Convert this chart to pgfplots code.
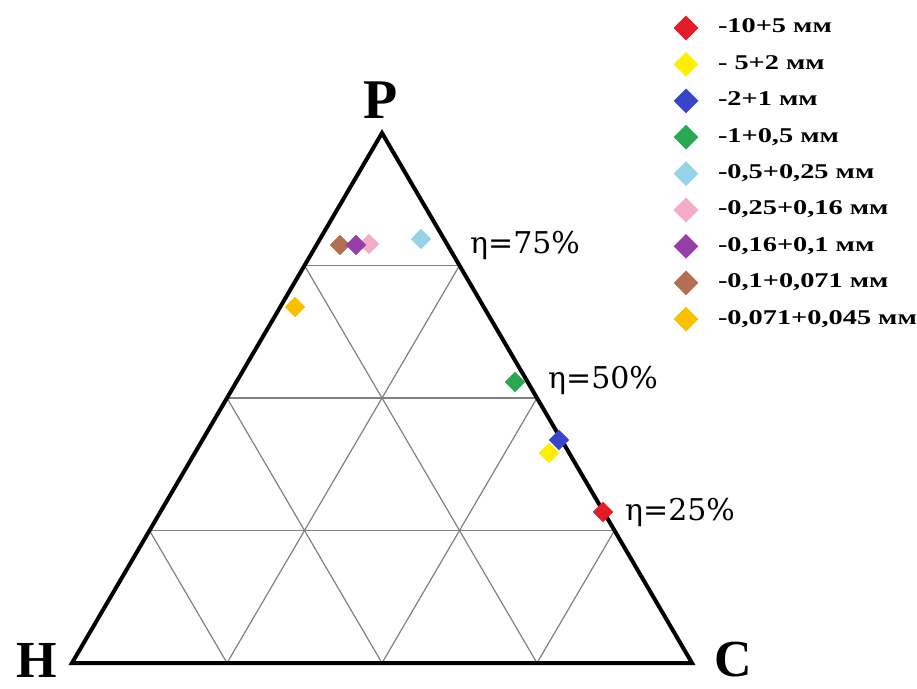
\documentclass[border=0pt]{standalone}
\usepackage{pgfplots}
\pgfplotsset{compat=1.18}
\usepackage{fontspec}
\setmainfont{Liberation Serif}
\newfontfamily\legfont[FakeStretch=1.35]{Liberation Serif}
\newfontfamily\etafont{DejaVu Serif}
\definecolor{cred}{RGB}{228,28,40}
\definecolor{cyellow}{RGB}{255,238,0}
\definecolor{cblue}{RGB}{58,68,200}
\definecolor{cgreen}{RGB}{40,168,80}
\definecolor{clblue}{RGB}{150,210,232}
\definecolor{cpink}{RGB}{245,172,200}
\definecolor{cpurple}{RGB}{150,62,170}
\definecolor{cbrown}{RGB}{180,110,80}
\definecolor{cgold}{RGB}{250,192,0}
\definecolor{gridgray}{RGB}{128,128,128}
\begin{document}
\begin{tikzpicture}
\begin{axis}[
  scale only axis, width=917pt, height=688pt,
  xmin=0, xmax=917, ymin=0, ymax=688,
  axis lines=none, clip=false,
  legend style={at={(axis cs:674,669)}, anchor=north west, draw=none, fill=none,
    inner sep=0pt, outer sep=0pt,
    font=\fontsize{21}{23}\legfont\bfseries, row sep=18.4pt,
    nodes={inner sep=0pt, text height=14pt, text depth=4pt},
    /tikz/every odd column/.append style={column sep=18pt}},
  legend cell align=left,
  legend image code/.code={\draw[overlay, mark size=8.5pt] plot coordinates {(12pt,0pt)}; \path[draw=none, fill=none] (0pt,-5pt) rectangle (26pt,5pt);},
  every axis plot/.append style={only marks, mark=square*, mark size=7pt, mark options={rotate=45}},
]
% grid
\addplot[sharp plot, mark=none, draw=gridgray, line width=1.2pt, forget plot] coordinates {(149.5,157.5) (614.5,157.5)};
\addplot[sharp plot, mark=none, draw=gridgray, line width=1.2pt, forget plot] coordinates {(227,290) (537,290)};
\addplot[sharp plot, mark=none, draw=gridgray, line width=1.2pt, forget plot] coordinates {(304.5,422.5) (459.5,422.5)};
\addplot[sharp plot, mark=none, draw=gridgray, line width=1.2pt, forget plot] coordinates {(227,25) (459.5,422.5)};
\addplot[sharp plot, mark=none, draw=gridgray, line width=1.2pt, forget plot] coordinates {(382,25) (537,290)};
\addplot[sharp plot, mark=none, draw=gridgray, line width=1.2pt, forget plot] coordinates {(537,25) (614.5,157.5)};
\addplot[sharp plot, mark=none, draw=gridgray, line width=1.2pt, forget plot] coordinates {(537,25) (304.5,422.5)};
\addplot[sharp plot, mark=none, draw=gridgray, line width=1.2pt, forget plot] coordinates {(382,25) (227,290)};
\addplot[sharp plot, mark=none, draw=gridgray, line width=1.2pt, forget plot] coordinates {(227,25) (149.5,157.5)};
% outer triangle
\addplot[sharp plot, mark=none, draw=black, line width=4pt, line join=miter, forget plot] coordinates {(72,25) (692,25) (382,555) (72,25) (692,25)};
% data
\addplot[color=cred, forget plot] coordinates {(603,176)};
\addplot[color=cyellow, forget plot] coordinates {(549,235)};
\addplot[color=cblue, forget plot] coordinates {(559,248)};
\addplot[color=cgreen, forget plot] coordinates {(515,306)};
\addplot[color=clblue, forget plot] coordinates {(421,449)};
\addplot[color=cpink, forget plot] coordinates {(369,444)};
\addplot[color=cbrown, forget plot] coordinates {(340,443)};
\addplot[color=cpurple, forget plot] coordinates {(356,443)};
\addplot[color=cgold, forget plot] coordinates {(295,381)};
% legend
\addlegendimage{only marks, mark=square*, mark options={rotate=45}, color=cred}
\addlegendentry{-10+5 мм}
\addlegendimage{only marks, mark=square*, mark options={rotate=45}, color=cyellow}
\addlegendentry{- 5+2 мм}
\addlegendimage{only marks, mark=square*, mark options={rotate=45}, color=cblue}
\addlegendentry{-2+1 мм}
\addlegendimage{only marks, mark=square*, mark options={rotate=45}, color=cgreen}
\addlegendentry{-1+0,5 мм}
\addlegendimage{only marks, mark=square*, mark options={rotate=45}, color=clblue}
\addlegendentry{-0,5+0,25 мм}
\addlegendimage{only marks, mark=square*, mark options={rotate=45}, color=cpink}
\addlegendentry{-0,25+0,16 мм}
\addlegendimage{only marks, mark=square*, mark options={rotate=45}, color=cpurple}
\addlegendentry{-0,16+0,1 мм}
\addlegendimage{only marks, mark=square*, mark options={rotate=45}, color=cbrown}
\addlegendentry{-0,1+0,071 мм}
\addlegendimage{only marks, mark=square*, mark options={rotate=45}, color=cgold}
\addlegendentry{-0,071+0,045 мм}
% labels
\node[font=\fontsize{56}{60}\selectfont\bfseries] at (axis cs:381,588) {P};
\node[font=\fontsize{52}{56}\selectfont\bfseries] at (axis cs:37,28) {H};
\node[font=\fontsize{52}{56}\selectfont\bfseries] at (axis cs:733,28) {C};
\node[font=\fontsize{30}{32}\etafont, anchor=west, inner sep=0pt] at (axis cs:470,443) {η=75\%};
\node[font=\fontsize{30}{32}\etafont, anchor=west, inner sep=0pt] at (axis cs:548,308) {η=50\%};
\node[font=\fontsize{30}{32}\etafont, anchor=west, inner sep=0pt] at (axis cs:625,176) {η=25\%};
\end{axis}
\pgfresetboundingbox
\path[use as bounding box] (current axis.south west) rectangle (current axis.north east);
\end{tikzpicture}
\end{document}
